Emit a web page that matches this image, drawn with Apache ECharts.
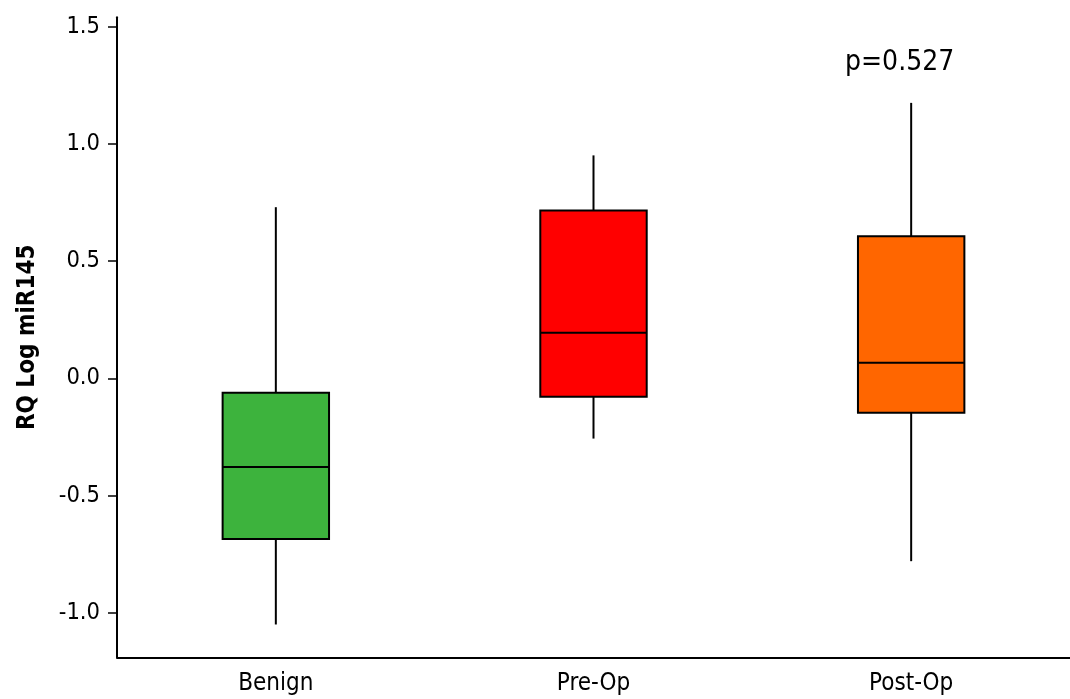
<!DOCTYPE html>
<html>
<head>
<meta charset="utf-8">
<script src="https://cdn.jsdelivr.net/npm/echarts@6/dist/echarts.min.js"></script>
<style>
html,body{margin:0;padding:0;background:#fff;}
#c{width:1070px;height:699px;}
</style>
</head>
<body>
<div id="c"></div>
<script>
const categories = ['Benign', 'Pre-Op', 'Post-Op'];
// [min, Q1, median, Q3, max]
const benign = [-1.05, -0.685, -0.378, -0.062, 0.730];
const preOp = [-0.257, -0.079, 0.194, 0.716, 0.951];
const postOp = [-0.780, -0.147, 0.066, 0.606, 1.175];
const boxColors = ['#3db33d', '#ff0000', '#ff6600'];
const yTicks = [-1.0, -0.5, 0.0, 0.5, 1.0, 1.5];
const pValueText = 'p=0.527';

const FONT = "'DejaVu Sans Condensed', 'DejaVu Sans', sans-serif";
const groups = [benign, preOp, postOp];
const seriesData = groups.map((g, i) => [i].concat(g));

const chart = echarts.init(document.getElementById('c'));
chart.setOption({
  animation: false,
  backgroundColor: '#fff',
  grid: { left: 117, right: 0, top: 17.3, bottom: 41.7, containLabel: false },
  xAxis: {
    type: 'category',
    data: categories,
    boundaryGap: true,
    axisLine: { onZero: false, lineStyle: { color: '#000', width: 2 } },
    axisTick: { alignWithLabel: true, length: 8, lineStyle: { color: '#000', width: 1.5 } },
    axisLabel: { color: '#000', fontSize: 24, fontFamily: FONT, margin: 14 },
    splitLine: { show: false }
  },
  yAxis: {
    type: 'value',
    min: -1.19,
    max: 1.54,
    name: 'RQ Log miR145',
    nameLocation: 'middle',
    nameGap: 77,
    nameRotate: 90,
    nameTextStyle: { color: '#000', fontSize: 24, fontWeight: 'bold', fontFamily: FONT },
    axisLine: { show: true, lineStyle: { color: '#000', width: 2 } },
    axisTick: { show: true, length: 9, customValues: yTicks, lineStyle: { color: '#000', width: 1.5 } },
    axisLabel: { color: '#000', fontSize: 23.5, fontFamily: FONT, margin: 17, customValues: yTicks,
      formatter: v => v.toFixed(1) },
    splitLine: { show: false }
  },
  graphic: [{
    type: 'text',
    left: 845,
    top: 49,
    style: { text: pValueText, fill: '#000', fontSize: 28, fontFamily: FONT }
  }],
  series: [{
    type: 'custom',
    data: seriesData,
    encode: { x: 0, y: [1, 2, 3, 4, 5] },
    renderItem: function (params, api) {
      const idx = api.value(0);
      const vmin = api.value(1), q1 = api.value(2), med = api.value(3), q3 = api.value(4), vmax = api.value(5);
      const pMax = api.coord([idx, vmax]);
      const pQ3 = api.coord([idx, q3]);
      const pMed = api.coord([idx, med]);
      const pQ1 = api.coord([idx, q1]);
      const pMin = api.coord([idx, vmin]);
      const band = api.size([1, 0])[0];
      const w = band * 0.335;
      const cx = pMed[0];
      const lineStyle = { stroke: '#000', lineWidth: 2 };
      return {
        type: 'group',
        children: [
          { type: 'line', shape: { x1: cx, y1: pMax[1], x2: cx, y2: pQ3[1] }, style: lineStyle },
          { type: 'line', shape: { x1: cx, y1: pQ1[1], x2: cx, y2: pMin[1] }, style: lineStyle },
          { type: 'rect', shape: { x: cx - w / 2, y: pQ3[1], width: w, height: pQ1[1] - pQ3[1] },
            style: { fill: boxColors[idx], stroke: '#000', lineWidth: 2 } },
          { type: 'line', shape: { x1: cx - w / 2, y1: pMed[1], x2: cx + w / 2, y2: pMed[1] },
            style: { stroke: '#000', lineWidth: 2 } }
        ]
      };
    }
  }]
});
</script>
</body>
</html>
